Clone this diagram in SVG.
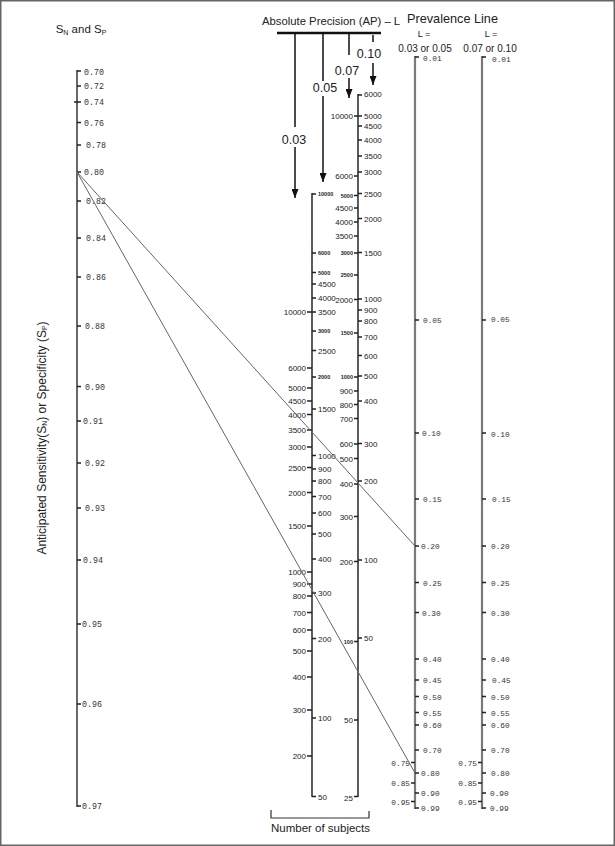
<svg xmlns="http://www.w3.org/2000/svg" width="615" height="846" viewBox="0 0 615 846">
<style>
.ax{stroke:#444;stroke-width:1.6;fill:none}
.mx{stroke:#333;stroke-width:1.6;fill:none}
.pv{stroke:#7a7a7a;stroke-width:2.2;fill:none}
.tk{stroke:#222;stroke-width:1.6;fill:none}
.ar{stroke:#111;stroke-width:1.5;fill:none}
.cn{stroke:#666;stroke-width:1;fill:none}
.lb{font-family:"Liberation Mono","DejaVu Sans Mono",monospace;font-size:8.3px;fill:#333}
.pl{font-family:"Liberation Mono","DejaVu Sans Mono",monospace;font-size:7.8px;fill:#333}
.md{font-family:"Liberation Sans",Arial,sans-serif;font-size:8px;fill:#222}
.sm{font-size:5.5px;font-weight:bold}
.r{text-anchor:end}
.c{text-anchor:middle}
.hd{font-family:"Liberation Sans",Arial,sans-serif;fill:#222}
</style>
<defs>
<marker id="ah" viewBox="0 0 9 7" refX="9" refY="3.5" markerWidth="9" markerHeight="7" markerUnits="userSpaceOnUse" orient="auto">
<path d="M0,0L9,3.5L0,7z" fill="#111"/>
</marker>
</defs>
<rect x="0.75" y="0.75" width="613.5" height="844.5" fill="#fff" stroke="#666" stroke-width="1.5"/>

<g id="title-sn-sp">
<text class="hd" x="81" y="33" font-size="11.5" text-anchor="middle">S<tspan font-size="7" dy="2">N</tspan><tspan dy="-2"> and S</tspan><tspan font-size="7" dy="2">P</tspan></text>
</g>
<g id="axis-title">
<text class="hd" transform="translate(45.5,438) rotate(-90)" font-size="12" text-anchor="middle">Anticipated Sensitivity(S<tspan font-size="7" dy="1.5">N</tspan><tspan dy="-1.5">) or Specificity (S</tspan><tspan font-size="7" dy="1.5">P</tspan><tspan dy="-1.5">)</tspan></text>
</g>

<g id="axis-sn-sp">
<path class="ax" d="M77,70V807"/>
<path class="tk" d="M77,71h4M77,86h4M74,102h7M77,122.5h4M77,145h4M77,172h4M77,201h4M77,238h4M77,277h4M77,326h4M77,386.5h4M77,421h4M77,463h4M77,508h4M77,560h4M77,624h4M77,704h4M77,806h4"/>
<text class="lb" x="84" y="75">0.70</text>
<text class="lb" x="84" y="89">0.72</text>
<text class="lb" x="84" y="105">0.74</text>
<text class="lb" x="84" y="125.5">0.76</text>
<text class="lb" x="86" y="148">0.78</text>
<text class="lb" x="84" y="175">0.80</text>
<text class="lb" x="86" y="204">0.82</text>
<text class="lb" x="86" y="241">0.84</text>
<text class="lb" x="86" y="280">0.86</text>
<text class="lb" x="85" y="329">0.88</text>
<text class="lb" x="85" y="389.5">0.90</text>
<text class="lb" x="83" y="424">0.91</text>
<text class="lb" x="85" y="466">0.92</text>
<text class="lb" x="85" y="511">0.93</text>
<text class="lb" x="83" y="563">0.94</text>
<text class="lb" x="82" y="627">0.95</text>
<text class="lb" x="82" y="707">0.96</text>
<text class="lb" x="82" y="809">0.97</text>
</g>

<g id="ap-header">
<text class="hd" x="262" y="25" font-size="11.3">Absolute Precision (AP) – L</text>
<path d="M277,33H381" stroke="#111" stroke-width="2.5" fill="none"/>
<path class="ar" d="M295,33V127M323,33V81M349,33V55M373,35V42"/>
<path class="ar" d="M295,147V198" marker-end="url(#ah)"/>
<path class="ar" d="M323,96V182" marker-end="url(#ah)"/>
<path class="ar" d="M349,78V98" marker-end="url(#ah)"/>
<path class="ar" d="M373,63V85" marker-end="url(#ah)"/>
<text class="hd c" x="294" y="143.5" font-size="12.5">0.03</text>
<text class="hd c" x="325" y="92" font-size="12.5">0.05</text>
<text class="hd c" x="347" y="75" font-size="12.5">0.07</text>
<text class="hd c" x="369" y="57.5" font-size="12.5">0.10</text>
</g>

<g id="scale-n-ap003-005">
<path class="mx" d="M312,193V797"/>
<path class="tk" d="M307,312h5M307,368h5M307,388h5M307,401h5M307,414.5h5M307,430h5M307,447h5M307,467.5h5M307,492.5h5M307,526h5M307,572h5M307,584h5M307,596h5M307,612.5h5M307,630h5M307,651h5M307,677h5M307,710h5M307,756h5"/>
<path class="tk" d="M312,194h4M312,253h4M312,272.5h4M312,284h4M312,298h4M312,312h4M312,331h4M312,350.5h4M312,377h4M312,409h4M312,455.5h4M312,469h4M312,481h4M312,496.5h4M312,513h4M312,534h4M312,559h4M312,593h4M312,638.5h4M312,718h4M312,796.5h4"/>
<text class="md r" x="306" y="315">10000</text>
<text class="md r" x="306" y="371">6000</text>
<text class="md r" x="306" y="391">5000</text>
<text class="md r" x="306" y="404">4500</text>
<text class="md r" x="306" y="417.5">4000</text>
<text class="md r" x="306" y="433">3500</text>
<text class="md r" x="306" y="450">3000</text>
<text class="md r" x="306" y="470.5">2500</text>
<text class="md r" x="306" y="495.5">2000</text>
<text class="md r" x="306" y="529">1500</text>
<text class="md r" x="306" y="575">1000</text>
<text class="md r" x="306" y="587">900</text>
<text class="md r" x="306" y="599">800</text>
<text class="md r" x="306" y="615.5">700</text>
<text class="md r" x="306" y="633">600</text>
<text class="md r" x="306" y="654">500</text>
<text class="md r" x="306" y="680">400</text>
<text class="md r" x="306" y="713">300</text>
<text class="md r" x="306" y="759">200</text>
<text class="md sm" x="318" y="196">10000</text>
<text class="md sm" x="318" y="255">6000</text>
<text class="md sm" x="318" y="274.5">5000</text>
<text class="md" x="318" y="287">4500</text>
<text class="md" x="318" y="301">4000</text>
<text class="md" x="318" y="315">3500</text>
<text class="md sm" x="318" y="333">3000</text>
<text class="md" x="318" y="353.5">2500</text>
<text class="md sm" x="318" y="379">2000</text>
<text class="md" x="318" y="412">1500</text>
<text class="md" x="318" y="458.5">1000</text>
<text class="md" x="318" y="472">900</text>
<text class="md" x="318" y="484">800</text>
<text class="md" x="318" y="499.5">700</text>
<text class="md" x="318" y="516">600</text>
<text class="md" x="318" y="537">500</text>
<text class="md" x="318" y="562">400</text>
<text class="md" x="318" y="596">300</text>
<text class="md" x="318" y="641.5">200</text>
<text class="md" x="318" y="721">100</text>
<text class="md" x="318" y="800">50</text>
</g>

<g id="scale-n-ap007-010">
<path class="mx" d="M358,94V797"/>
<path class="tk" d="M354,116h4M354,176h4M354,195.5h4M354,208h4M354,222h4M354,236h4M354,253h4M354,275h4M354,299.5h4M354,333h4M354,377h4M354,391h4M354,404.5h4M354,418.5h4M354,444h4M354,458.5h4M354,484h4M354,516.5h4M354,561.5h4M354,641.5h4M354,720h4M354,796.5h4"/>
<path class="tk" d="M358,95h4M358,116h4M358,126h4M358,140h4M358,156h4M358,172h4M358,193.5h4M358,218.5h4M358,252.5h4M358,299h4M358,310h4M358,321h4M358,337h4M358,355.5h4M358,376h4M358,401h4M358,443.5h4M358,481h4M358,560h4M358,638h4"/>
<text class="md r" x="353" y="119">10000</text>
<text class="md r" x="353" y="179">6000</text>
<text class="md r sm" x="353" y="197.5">5000</text>
<text class="md r" x="353" y="211">4500</text>
<text class="md r" x="353" y="225">4000</text>
<text class="md r" x="353" y="239">3500</text>
<text class="md r sm" x="353" y="255">3000</text>
<text class="md r sm" x="353" y="277">2500</text>
<text class="md r" x="353" y="302.5">2000</text>
<text class="md r sm" x="353" y="335">1500</text>
<text class="md r sm" x="353" y="379">1000</text>
<text class="md r" x="353" y="394">900</text>
<text class="md r" x="353" y="407.5">800</text>
<text class="md r" x="353" y="421.5">700</text>
<text class="md r" x="353" y="447">600</text>
<text class="md r" x="353" y="461.5">500</text>
<text class="md r" x="353" y="487">400</text>
<text class="md r" x="353" y="519.5">300</text>
<text class="md r" x="353" y="564.5">200</text>
<text class="md r sm" x="353" y="643.5">100</text>
<text class="md r" x="353" y="723">50</text>
<text class="md r" x="353" y="801">25</text>
<text class="md" x="364" y="97">6000</text>
<text class="md" x="364" y="119">5000</text>
<text class="md" x="364" y="129">4500</text>
<text class="md" x="364" y="143">4000</text>
<text class="md" x="364" y="159">3500</text>
<text class="md" x="364" y="175">3000</text>
<text class="md" x="364" y="196.5">2500</text>
<text class="md" x="364" y="221.5">2000</text>
<text class="md" x="364" y="255.5">1500</text>
<text class="md" x="364" y="302">1000</text>
<text class="md" x="364" y="313">900</text>
<text class="md" x="364" y="324">800</text>
<text class="md" x="364" y="340">700</text>
<text class="md" x="364" y="358.5">600</text>
<text class="md" x="364" y="379">500</text>
<text class="md" x="364" y="404">400</text>
<text class="md" x="364" y="446.5">300</text>
<text class="md" x="364" y="484">200</text>
<text class="md" x="364" y="563">100</text>
<text class="md" x="364" y="641">50</text>
</g>

<g id="subjects-bracket">
<path d="M271,810V818H369V811" stroke="#333" stroke-width="1.2" fill="none"/>
<text class="hd c" x="320.5" y="832" font-size="11.5">Number of subjects</text>
</g>

<g id="prevalence-header">
<text class="hd" x="407" y="23" font-size="12.7">Prevalence Line</text>
<text class="hd c" x="424" y="36.5" font-size="9">L =</text>
<text class="hd c" x="491" y="36.5" font-size="9">L =</text>
<text class="hd c" x="425" y="51.5" font-size="10">0.03 or 0.05</text>
<text class="hd c" x="490" y="51.5" font-size="10">0.07 or 0.10</text>
</g>

<g id="prevalence-a">
<path class="pv" d="M415,56V809"/>
<path class="tk" d="M415,57h4M415,320h4M415,433h4M415,499h4M415,546h4M415,582.5h4M415,612.5h4M415,659h4M415,680h4M415,696.5h4M415,712.5h4M415,725h4M415,750h4M415,773h4M415,793h4M415,808h4M411,762.5h4M411,783h4M411,801.5h4"/>
<text class="pl" x="423" y="61">0.01</text>
<text class="pl" x="423" y="323">0.05</text>
<text class="pl" x="422" y="436">0.10</text>
<text class="pl" x="423" y="502">0.15</text>
<text class="pl" x="421" y="549">0.20</text>
<text class="pl" x="423" y="585.5">0.25</text>
<text class="pl" x="422" y="615.5">0.30</text>
<text class="pl" x="423" y="662">0.40</text>
<text class="pl" x="423" y="683">0.45</text>
<text class="pl" x="423" y="699.5">0.50</text>
<text class="pl" x="423" y="715.5">0.55</text>
<text class="pl" x="423" y="728">0.60</text>
<text class="pl" x="423" y="753">0.70</text>
<text class="pl" x="421" y="776">0.80</text>
<text class="pl" x="421" y="796">0.90</text>
<text class="pl" x="421" y="811">0.99</text>
<text class="pl r" x="410" y="765.5">0.75</text>
<text class="pl r" x="410" y="786">0.85</text>
<text class="pl r" x="410" y="804.5">0.95</text>
</g>

<g id="prevalence-b">
<path class="pv" d="M482,56V809"/>
<path class="tk" d="M482,57h4M482,320h4M482,433h4M482,499h4M482,546h4M482,582.5h4M482,612.5h4M482,659h4M482,680h4M482,696.5h4M482,712.5h4M482,725h4M482,750h4M482,773h4M482,793h4M482,808h4M478,762.5h4M478,783h4M478,801.5h4"/>
<text class="pl" x="492" y="62">0.01</text>
<text class="pl" x="491" y="322">0.05</text>
<text class="pl" x="491" y="437">0.10</text>
<text class="pl" x="492" y="502">0.15</text>
<text class="pl" x="491" y="549">0.20</text>
<text class="pl" x="491" y="585.5">0.25</text>
<text class="pl" x="491" y="615.5">0.30</text>
<text class="pl" x="491" y="662">0.40</text>
<text class="pl" x="492" y="683">0.45</text>
<text class="pl" x="491" y="699.5">0.50</text>
<text class="pl" x="491" y="715.5">0.55</text>
<text class="pl" x="491" y="728">0.60</text>
<text class="pl" x="491" y="753">0.70</text>
<text class="pl" x="491" y="776">0.80</text>
<text class="pl" x="490" y="796">0.90</text>
<text class="pl" x="490" y="811">0.99</text>
<text class="pl r" x="477" y="765.5">0.75</text>
<text class="pl r" x="477" y="786">0.85</text>
<text class="pl r" x="477" y="804.5">0.95</text>
</g>

<g id="connectors">
<path class="cn" d="M77,172L415,546"/>
<path class="cn" d="M77,172L415,773"/>
</g>
</svg>
